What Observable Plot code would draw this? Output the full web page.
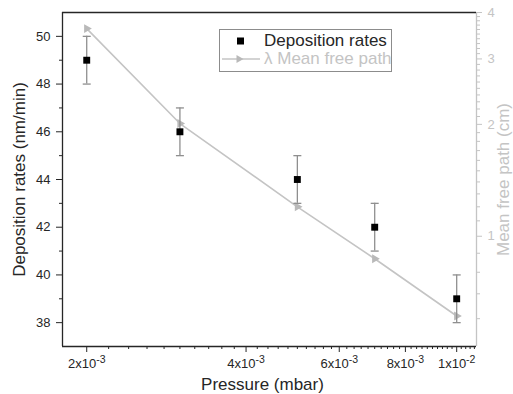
<!DOCTYPE html>
<html>
<head>
<meta charset="utf-8">
<script src="https://cdn.jsdelivr.net/npm/d3@7"></script>
<script src="https://cdn.jsdelivr.net/npm/@observablehq/plot@0.6"></script>
<style>
  body { margin: 0; background: #fff; font-family: "Liberation Sans", Arial, sans-serif; }
  #wrap { position: relative; width: 513px; height: 394px; overflow: hidden; }
  #wrap > svg { position: absolute; left: 0; top: 0; }
  #legend { position: absolute; left: 219px; top: 29px; width: 171px; height: 41px;
            border: 1px solid #8c8c8c; background: #fff; font-size: 17px; }
  #legend .row { position: absolute; left: 0; height: 18px; width: 171px; }
  #legend .row svg { position: absolute; left: 0; top: 0; }
  #legend .row span { position: absolute; left: 44px; top: 0; line-height: 18px; white-space: nowrap; }
</style>
</head>
<body>
<div id="wrap"></div>
<script>
// ---- data ----
const pressure = [2e-3, 3e-3, 5e-3, 7e-3, 1e-2];
const depositionRate = [49, 46, 44, 42, 39];
const depositionError = [1, 1, 1, 1, 1];
const meanFreePath = [3.62, 2.01, 1.2, 0.87, 0.61];

// ---- axes ----
const xDomain = [1.8e-3, 1.09e-2];
const xTicks = [2e-3, 4e-3, 6e-3, 8e-3, 1e-2];
const xTickLabels = ["2x10^-3", "4x10^-3", "6x10^-3", "8x10^-3", "1x10^-2"];
const xMinorTicks = [2.2e-3, 2.4e-3, 2.6e-3, 2.8e-3, 3.0e-3, 3.2e-3, 3.4e-3, 3.6e-3, 3.8e-3,
  4.2e-3, 4.4e-3, 4.6e-3, 4.8e-3, 5.0e-3, 5.2e-3, 5.4e-3, 5.6e-3, 5.8e-3,
  6.2e-3, 6.4e-3, 6.6e-3, 6.8e-3, 7.0e-3, 7.2e-3, 7.4e-3, 7.6e-3, 7.8e-3,
  8.2e-3, 8.4e-3, 8.6e-3, 8.8e-3, 9.0e-3, 9.2e-3, 9.4e-3, 9.6e-3, 9.8e-3,
  1.02e-2, 1.04e-2, 1.06e-2, 1.08e-2];
const yLeftDomain = [37, 51];
const yLeftTicks = [38, 40, 42, 44, 46, 48, 50];
const yLeftMinorTicks = [39, 41, 43, 45, 47, 49];
const yRightDomain = [0.505, 4];
const yRightTicks = [1, 2, 3, 4];
const yRightMinorTicks = [0.6, 0.7, 0.8, 0.9, 1.1, 1.2, 1.3, 1.4, 1.5, 1.6, 1.7, 1.8, 1.9,
  2.1, 2.2, 2.3, 2.4, 2.5, 2.6, 2.7, 2.8, 2.9, 3.1, 3.2, 3.3, 3.4, 3.5, 3.6, 3.7, 3.8, 3.9];

const xLabel = "Pressure (mbar)";
const yLeftLabel = "Deposition rates (nm/min)";
const yRightLabel = "Mean free path (cm)";
const legendLabels = ["Deposition rates", "\u03bb Mean free path"];

const data = pressure.map((p, i) => ({
  p, rate: depositionRate[i], lo: depositionRate[i] - depositionError[i],
  hi: depositionRate[i] + depositionError[i], mfp: meanFreePath[i]
}));

const DARK = "#262626";
const GRAY = "#c4c4c4";
const BAR = "#8f8f8f";
const FONT = "'Liberation Sans', Arial, sans-serif";

const dims = { width: 513, height: 394, marginLeft: 62, marginRight: 37, marginTop: 12, marginBottom: 48 };

const capSymbol = {
  draw(ctx, size) { const w = Math.sqrt(size / Math.PI); ctx.moveTo(-w, 0); ctx.lineTo(w, 0); }
};

// right axis plot (mean free path, log scale)
const right = Plot.plot({
  ...dims,
  style: { background: "transparent", fontFamily: FONT, color: GRAY },
  x: { type: "log", domain: xDomain, axis: null },
  y: { type: "log", domain: yRightDomain },
  marks: [
    Plot.ruleX([xDomain[1]], { stroke: GRAY, strokeWidth: 1.3 }),
    Plot.axisY({ anchor: "right", ticks: yRightMinorTicks, tickSize: 3, tickFormat: () => "", label: null, stroke: GRAY }),
    Plot.axisY({ anchor: "right", ticks: yRightTicks, tickSize: 5, tickPadding: 6, fontSize: 13,
      tickFormat: d => String(d), label: null, stroke: GRAY, fill: GRAY }),
    Plot.line(data, { x: "p", y: "mfp", stroke: GRAY, strokeWidth: 1.6 }),
    Plot.dot(data, { x: "p", y: "mfp", symbol: "triangle", rotate: 90, r: 3.3, fill: "#b9b9b9", stroke: null }),
    Plot.text([yRightLabel], { text: d => d, frameAnchor: "right", textAnchor: "middle", lineAnchor: "middle",
      rotate: -90, dx: 27, fontSize: 17, fill: GRAY })
  ]
});

// left axis plot (deposition rates)
const left = Plot.plot({
  ...dims,
  style: { background: "transparent", fontFamily: FONT, color: DARK },
  x: { type: "log", domain: xDomain },
  y: { domain: yLeftDomain },
  marks: [
    Plot.ruleY([yLeftDomain[0]], { stroke: DARK, strokeWidth: 1.3 }),
    Plot.ruleY([yLeftDomain[1]], { stroke: DARK, strokeWidth: 1.3 }),
    Plot.ruleX([xDomain[0]], { stroke: DARK, strokeWidth: 1.3 }),
    Plot.axisX({ ticks: xMinorTicks, tickSize: 3, tickFormat: () => "", label: null, stroke: DARK }),
    Plot.axisX({ ticks: xTicks, tickSize: 6, tickPadding: 6, fontSize: 13, label: null, stroke: DARK, fill: DARK,
      tickFormat: d => xTickLabels[xTicks.indexOf(d)] }),
    Plot.axisY({ ticks: yLeftMinorTicks, tickSize: 3, tickFormat: () => "", label: null, stroke: DARK }),
    Plot.axisY({ ticks: yLeftTicks, tickSize: 6, tickPadding: 6, fontSize: 13, label: null, stroke: DARK, fill: DARK }),
    Plot.ruleX(data, { x: "p", y1: "lo", y2: "hi", stroke: BAR, strokeWidth: 1.3 }),
    Plot.dot(data, { x: "p", y: "lo", symbol: capSymbol, r: 4, stroke: BAR, strokeWidth: 1.3 }),
    Plot.dot(data, { x: "p", y: "hi", symbol: capSymbol, r: 4, stroke: BAR, strokeWidth: 1.3 }),
    Plot.dot(data, { x: "p", y: "rate", symbol: "square", r: 3.9, fill: "#000", stroke: null }),
    Plot.text([yLeftLabel], { text: d => d, frameAnchor: "left", textAnchor: "middle", lineAnchor: "middle",
      rotate: -90, dx: -43, fontSize: 17, fill: DARK }),
    Plot.text([xLabel], { text: d => d, frameAnchor: "bottom", textAnchor: "middle", lineAnchor: "middle",
      dy: 38, dx: -7, fontSize: 17, fill: DARK })
  ]
});

// superscript exponents on x tick labels
d3.select(left).selectAll('g[aria-label="x-axis tick label"] text').each(function () {
  const t = this.textContent;
  if (!t.includes("^")) return;
  const [base, exp] = t.split("^");
  const sel = d3.select(this);
  sel.text(null);
  sel.append("tspan").text(base);
  sel.append("tspan").attr("dy", "-5").attr("font-size", "10.5").text(exp);
});

const wrap = document.getElementById("wrap");
wrap.appendChild(right);
wrap.appendChild(left);

// legend
const legend = document.createElement("div");
legend.id = "legend";
legend.innerHTML = `
  <div class="row" style="top:2px">
    <svg width="40" height="18"><rect x="17" y="5.5" width="7" height="7" fill="#000"/></svg>
    <span style="color:${DARK}">${legendLabels[0]}</span>
  </div>
  <div class="row" style="top:20px">
    <svg width="42" height="18"><line x1="2" x2="40" y1="9" y2="9" stroke="${GRAY}" stroke-width="1.5"/>
      <path d="M16.5,5 L23.5,9 L16.5,13 Z" fill="#b9b9b9"/></svg>
    <span style="color:${GRAY}">${legendLabels[1]}</span>
  </div>`;
wrap.appendChild(legend);
</script>
</body>
</html>
